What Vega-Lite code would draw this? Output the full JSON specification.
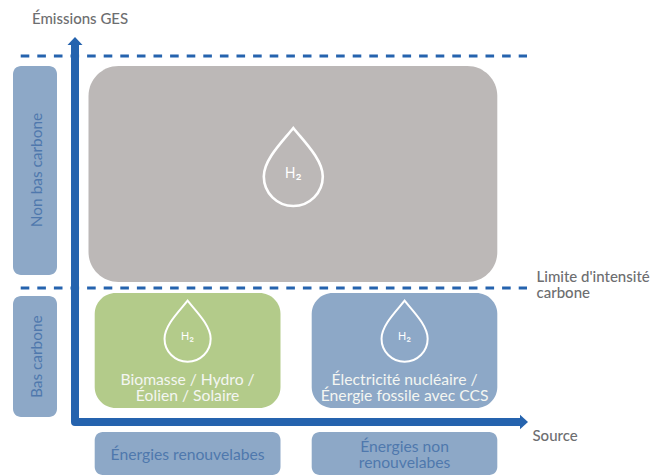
{
  "$schema": "https://vega.github.io/schema/vega-lite/v6.json",
  "width": 666,
  "height": 475,
  "padding": 0,
  "autosize": {"type": "fit", "contains": "padding"},
  "background": "white",
  "config": {"view": {"stroke": null}},
  "datasets": {
    "grey": [{"x": 88.5, "x2": 497.3, "y": 66, "y2": 282, "kind": "grey"}],
    "panels": [
      {"x": 94.7, "x2": 280.5, "y": 293, "y2": 408, "kind": "green"},
      {"x": 311.7, "x2": 497.3, "y": 293, "y2": 408, "kind": "blue"}
    ],
    "tags": [
      {"x": 13, "x2": 57, "y": 66, "y2": 275, "kind": "blue"},
      {"x": 13, "x2": 57, "y": 296, "y2": 417, "kind": "blue"},
      {"x": 94.7, "x2": 280.5, "y": 432, "y2": 475, "kind": "blue"},
      {"x": 311.7, "x2": 497.3, "y": 432, "y2": 475, "kind": "blue"}
    ],
    "limits": [
      {"x": 20.7, "x2": 527, "y": 56},
      {"x": 20.7, "x2": 527, "y": 288}
    ],
    "axes": [
      {"x": 75, "y": 44, "order": 1},
      {"x": 75, "y": 422, "order": 2},
      {"x": 522, "y": 422, "order": 3}
    ],
    "bigDrop": [{"x": 293.3, "y": 167}],
    "smallDrops": [{"x": 187.6, "y": 331.2}, {"x": 404.6, "y": 331.2}],
    "headUp": [{"x": 75, "y": 41}],
    "headRight": [{"x": 524, "y": 422}],
    "outerLabels": [
      {"x": 32, "y": 19, "label": "Émissions GES"},
      {"x": 536.5, "y": 277, "label": "Limite d'intensité"},
      {"x": 536.5, "y": 293, "label": "carbone"},
      {"x": 532.5, "y": 435.5, "label": "Source"}
    ],
    "whiteLabels": [
      {"x": 187.6, "y": 380, "label": "Biomasse / Hydro /"},
      {"x": 187.6, "y": 395.5, "label": "Éolien / Solaire"},
      {"x": 404.6, "y": 380, "label": "Électricité nucléaire /"},
      {"x": 404.6, "y": 395.5, "label": "Énergie fossile avec CCS"}
    ],
    "blueLabels": [
      {"x": 187.6, "y": 454.5, "label": "Énergies renouvelabes"},
      {"x": 404.6, "y": 447, "label": "Énergies non"},
      {"x": 404.6, "y": 462.5, "label": "renouvelabes"}
    ],
    "sideLabels": [
      {"x": 37, "y": 170, "label": "Non bas carbone"},
      {"x": 37, "y": 356.7, "label": "Bas carbone"}
    ],
    "bigH2": [{"x": 293.3, "y": 174, "label": "H₂"}],
    "smallH2": [{"x": 187.6, "y": 336.5, "label": "H₂"}, {"x": 404.6, "y": 336.5, "label": "H₂"}]
  },
  "encoding": {
    "x": {"field": "x", "type": "quantitative", "scale": {"domain": [0, 666], "nice": false, "zero": false}, "axis": null},
    "y": {"field": "y", "type": "quantitative", "scale": {"domain": [475, 0], "nice": false, "zero": false}, "axis": null}
  },
  "layer": [
    {
      "data": {"name": "grey"},
      "mark": {"type": "rect", "cornerRadius": 30},
      "encoding": {
        "x2": {"field": "x2"}, "y2": {"field": "y2"},
        "fill": {"field": "kind", "type": "nominal", "legend": null,
          "scale": {"domain": ["grey", "green", "blue"], "range": ["#bcb8b7", "#b3cb8a", "#8da8c7"]}}
      }
    },
    {
      "data": {"name": "panels"},
      "mark": {"type": "rect", "cornerRadius": 21},
      "encoding": {
        "x2": {"field": "x2"}, "y2": {"field": "y2"},
        "fill": {"field": "kind", "type": "nominal", "legend": null}
      }
    },
    {
      "data": {"name": "tags"},
      "mark": {"type": "rect", "cornerRadius": 8},
      "encoding": {
        "x2": {"field": "x2"}, "y2": {"field": "y2"},
        "fill": {"field": "kind", "type": "nominal", "legend": null}
      }
    },
    {
      "data": {"name": "limits"},
      "mark": {"type": "rule", "color": "#2563ae", "strokeWidth": 3, "strokeDash": [8.6, 8]},
      "encoding": {"x2": {"field": "x2"}}
    },
    {
      "data": {"name": "axes"},
      "mark": {"type": "line", "color": "#2563ae", "strokeWidth": 8, "strokeJoin": "round"},
      "encoding": {"order": {"field": "order", "type": "quantitative"}}
    },
    {
      "data": {"name": "headUp"},
      "mark": {"type": "point", "shape": "M-1,0.53 L0,-0.53 L1,0.53 Z", "size": 225, "filled": true, "fill": "#2563ae", "opacity": 1, "strokeWidth": 0}
    },
    {
      "data": {"name": "headRight"},
      "mark": {"type": "point", "shape": "M-0.55,-1 L0.55,0 L-0.55,1 Z", "size": 210, "filled": true, "fill": "#2563ae", "opacity": 1, "strokeWidth": 0}
    },
    {
      "data": {"name": "bigDrop"},
      "mark": {"type": "point", "shape": "M0,-1 C0.25,-0.68 0.756,-0.2 0.756,0.244 C0.756,0.661 0.418,1 0,1 C-0.418,1 -0.756,0.661 -0.756,0.244 C-0.756,-0.2 -0.25,-0.68 0,-1 Z", "size": 6084, "filled": false, "stroke": "white", "strokeWidth": 2.6, "opacity": 1}
    },
    {
      "data": {"name": "smallDrops"},
      "mark": {"type": "point", "shape": "M0,-1 C0.25,-0.68 0.756,-0.2 0.756,0.244 C0.756,0.661 0.418,1 0,1 C-0.418,1 -0.756,0.661 -0.756,0.244 C-0.756,-0.2 -0.25,-0.68 0,-1 Z", "size": 3721, "filled": false, "stroke": "white", "strokeWidth": 2, "opacity": 1}
    },
    {
      "data": {"name": "outerLabels"},
      "mark": {"type": "text", "font": "Lato", "fontSize": 15, "fontWeight": 500, "align": "left", "baseline": "middle", "color": "#6d6e70"},
      "encoding": {"text": {"field": "label"}}
    },
    {
      "data": {"name": "whiteLabels"},
      "mark": {"type": "text", "font": "Lato", "fontSize": 15.7, "align": "center", "baseline": "middle", "color": "#f4f6f2"},
      "encoding": {"text": {"field": "label"}}
    },
    {
      "data": {"name": "blueLabels"},
      "mark": {"type": "text", "font": "Lato", "fontSize": 15.7, "align": "center", "baseline": "middle", "color": "#4f78ad"},
      "encoding": {"text": {"field": "label"}}
    },
    {
      "data": {"name": "sideLabels"},
      "mark": {"type": "text", "font": "Lato", "fontSize": 15.4, "align": "center", "baseline": "middle", "angle": 270, "color": "#4f78ad"},
      "encoding": {"text": {"field": "label"}}
    },
    {
      "data": {"name": "bigH2"},
      "mark": {"type": "text", "font": "Inter", "fontSize": 14, "align": "center", "baseline": "middle", "color": "white"},
      "encoding": {"text": {"field": "label"}}
    },
    {
      "data": {"name": "smallH2"},
      "mark": {"type": "text", "font": "Inter", "fontSize": 11, "align": "center", "baseline": "middle", "color": "white"},
      "encoding": {"text": {"field": "label"}}
    }
  ]
}
